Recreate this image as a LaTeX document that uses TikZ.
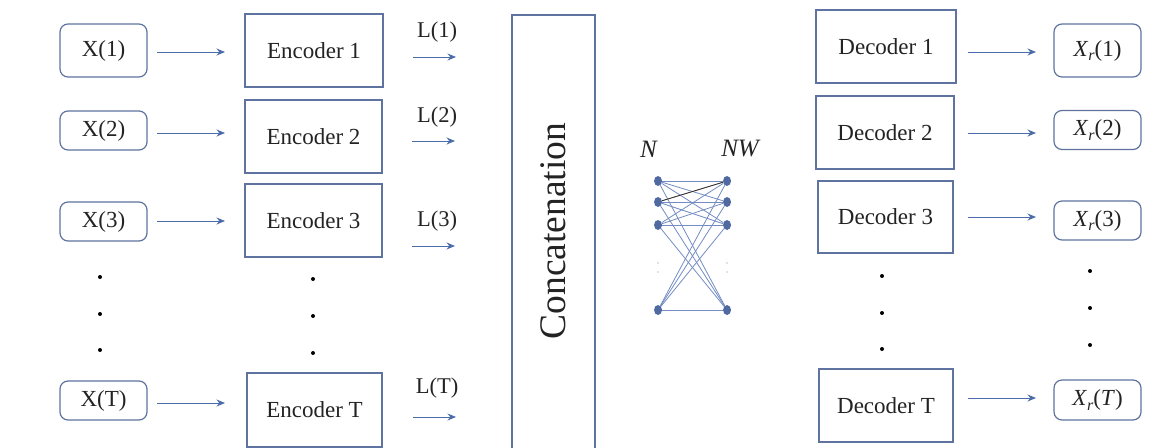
\documentclass[tikz,border=0pt]{standalone}
\usepackage{fontspec}
\setmainfont{Liberation Serif}
\usetikzlibrary{arrows.meta,shapes.geometric}
\definecolor{boxc}{RGB}{95,115,160}
\definecolor{arrc}{RGB}{75,110,170}
\definecolor{netc}{RGB}{80,105,160}
\definecolor{edgec}{RGB}{115,140,195}
\definecolor{txtc}{RGB}{35,35,35}
\newcommand{\xr}[1]{\textit{X}\raisebox{-4.5pt}{\fontsize{16}{16}\selectfont\textit{r}}(#1)}
\tikzset{
  inbox/.style={draw=boxc,line width=1.2pt,rounded corners=8pt,inner sep=0pt,minimum width=87pt,text=txtc,font=\fontsize{23}{23}\selectfont},
  codbox/.style={draw=boxc,line width=1.3pt,inner sep=0pt,text=txtc,font=\fontsize{23}{23}\selectfont},
  flow/.style={draw=arrc,line width=0.9pt,-{Stealth[length=8.5pt,width=7pt]}},
  lab/.style={inner sep=0pt,text=txtc,font=\fontsize{22.5}{22.5}\selectfont},
  dotn/.style={circle,fill=black,inner sep=0pt,minimum size=4pt},
  neur/.style={ellipse,fill=netc,inner sep=0pt,minimum width=8pt,minimum height=10pt},
  edge/.style={draw=edgec,line width=0.8pt},
}
\begin{document}
\begin{tikzpicture}[x=1pt,y=-1pt]
\useasboundingbox (0,0) rectangle (1161,447);
% inputs
\node[inbox,minimum height=53pt] (x1) at (103.5,50.5) {X(1)};
\node[inbox,minimum height=39pt] (x2) at (103.5,130.5) {X(2)};
\node[inbox,minimum height=39pt] (x3) at (103.5,221.5) {X(3)};
\node[inbox,minimum height=39pt] (xT) at (103.5,400.5) {X(T)};
% encoders
\node[codbox,minimum width=138pt,minimum height=73pt] (e1) at (314,50.5) {Encoder 1};
\node[codbox,minimum width=137pt,minimum height=73pt] (e2) at (313.5,136.5) {Encoder 2};
\node[codbox,minimum width=137pt,minimum height=73pt] (e3) at (313.5,220.5) {Encoder 3};
\node[codbox,minimum width=135pt,minimum height=74pt] (eT) at (314.5,410) {Encoder T};
% arrows inputs -> encoders
\coordinate (a1s) at (157,52); \coordinate (a1e) at (225,52);
\coordinate (a2s) at (157,133); \coordinate (a2e) at (225,133);
\coordinate (a3s) at (157,221); \coordinate (a3e) at (225,221);
\coordinate (aTs) at (157,403); \coordinate (aTe) at (225,403);
\draw[flow] (a1s) -- (a1e);
\draw[flow] (a2s) -- (a2e);
\draw[flow] (a3s) -- (a3e);
\draw[flow] (aTs) -- (aTe);
% dots
\node[dotn] (ld1) at (100,277) {};
\node[dotn] (ld2) at (100,314) {};
\node[dotn] (ld3) at (100,350) {};
\node[dotn] (ed1) at (313,279) {};
\node[dotn] (ed2) at (313,316) {};
\node[dotn] (ed3) at (313,353) {};
% L labels and arrows
\node[lab] (l1) at (437,32) {L(1)};
\node[lab] (l2) at (437,117) {L(2)};
\node[lab] (l3) at (437,221) {L(3)};
\node[lab] (lT) at (437,388) {L(T)};
\coordinate (b1s) at (413,57); \coordinate (b1e) at (456,57);
\coordinate (b2s) at (412,141); \coordinate (b2e) at (455,141);
\coordinate (b3s) at (412,246); \coordinate (b3e) at (455,246);
\coordinate (bTs) at (413,417); \coordinate (bTe) at (456,417);
\draw[flow] (b1s) -- (b1e);
\draw[flow] (b2s) -- (b2e);
\draw[flow] (b3s) -- (b3e);
\draw[flow] (bTs) -- (bTe);
% concatenation
\node[codbox,minimum width=83pt,minimum height=436pt] (cc) at (553.5,233) {};
\node[rotate=90,inner sep=0pt,text=txtc,font=\fontsize{37.5}{37.5}\selectfont] (cct) at (553,231) {Concatenation};
% network
\node[inner sep=0pt,text=txtc,font=\fontsize{25}{25}\selectfont] (nl) at (649,149) {\textit{N}};
\node[inner sep=0pt,text=txtc,font=\fontsize{25}{25}\selectfont] (nwl) at (741,149) {\textit{NW}};
\foreach \i/\yy in {1/181,2/202,3/225,4/310}{
  \node[neur] (p\i) at (658,\yy) {};
  \node[neur] (q\i) at (727,\yy) {};
}
\foreach \i in {1,2,3,4}{
  \foreach \j in {1,2,3,4}{
    \draw[edge] (p\i) -- (q\j);
  }
}
\draw[draw=black!70!brown,line width=0.7pt] (p2) -- (q1);
\foreach \yy in {263,272}{
  \node[circle,fill=gray,inner sep=0pt,minimum size=1.3pt] at (658,\yy) {};
  \node[circle,fill=gray,inner sep=0pt,minimum size=1.3pt] at (727,\yy) {};
}
% decoders
\node[codbox,minimum width=140pt,minimum height=73pt] (d1) at (886,46.5) {Decoder 1};
\node[codbox,minimum width=138pt,minimum height=73pt] (d2) at (885,132.5) {Decoder 2};
\node[codbox,minimum width=135pt,minimum height=72pt] (d3) at (885.5,217) {Decoder 3};
\node[codbox,minimum width=134pt,minimum height=73pt] (dT) at (886,405.5) {Decoder T};
% arrows decoders -> outputs
\coordinate (c1s) at (968,52); \coordinate (c1e) at (1036,52);
\coordinate (c2s) at (968,133); \coordinate (c2e) at (1036,133);
\coordinate (c3s) at (968,217); \coordinate (c3e) at (1036,217);
\coordinate (cTs) at (968,398); \coordinate (cTe) at (1036,398);
\draw[flow] (c1s) -- (c1e);
\draw[flow] (c2s) -- (c2e);
\draw[flow] (c3s) -- (c3e);
\draw[flow] (cTs) -- (cTe);
% outputs
\node[inbox,minimum height=53pt] (y1) at (1097.5,50.5) {\xr{1}};
\node[inbox,minimum height=39pt] (y2) at (1097.5,130) {\xr{2}};
\node[inbox,minimum height=39pt] (y3) at (1097.5,220.5) {\xr{3}};
\node[inbox,minimum height=40pt] (yT) at (1097.5,400) {\xr{\textit{T}}};
% dots
\node[dotn] (dd1) at (882,276) {};
\node[dotn] (dd2) at (882,313) {};
\node[dotn] (dd3) at (882,349) {};
\node[dotn] (rd1) at (1090,271) {};
\node[dotn] (rd2) at (1090,308) {};
\node[dotn] (rd3) at (1090,345) {};
\end{tikzpicture}
\end{document}
